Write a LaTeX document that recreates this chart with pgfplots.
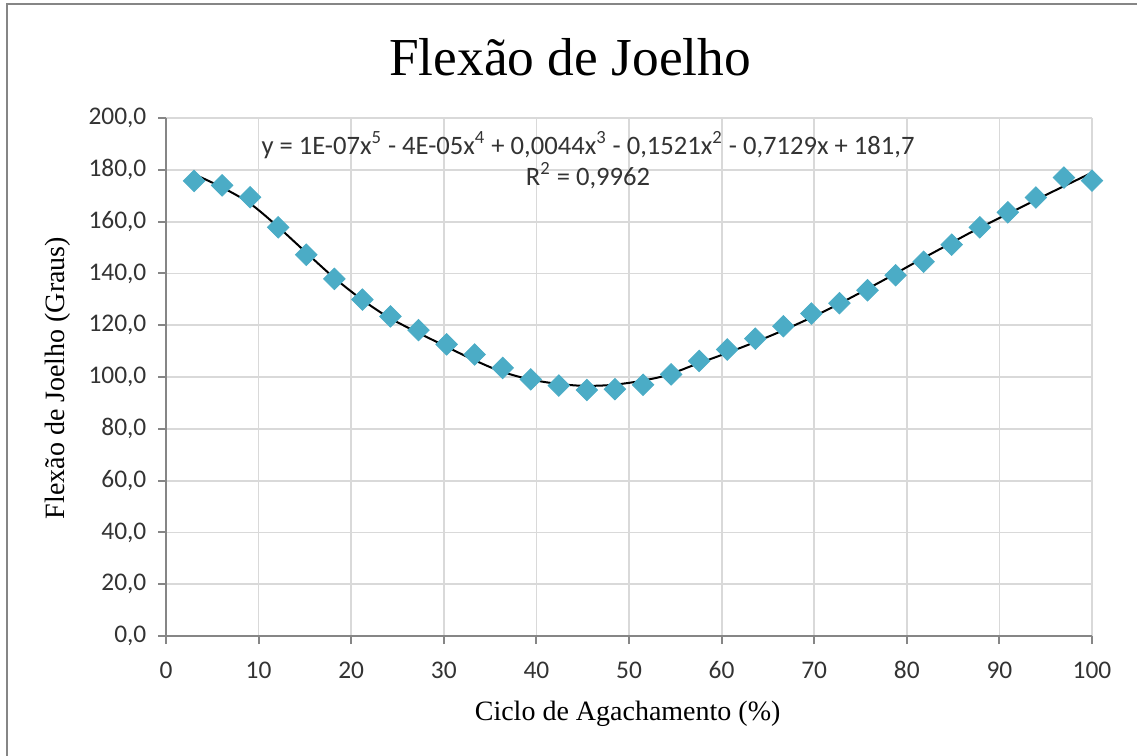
\documentclass[border=0pt]{standalone}
\usepackage{fontspec}
\setmainfont{Liberation Serif}
\newfontfamily\calib{Carlito}
\usepackage{pgfplots}
\pgfplotsset{compat=1.18}
\definecolor{mk}{RGB}{75,172,198}
\definecolor{gridc}{RGB}{217,217,217}
\definecolor{axc}{RGB}{134,134,134}
\begin{document}
\begin{tikzpicture}
\useasboundingbox (0,0) rectangle (568.5pt,-378pt);
\draw[axc, line width=1pt] (3.5pt,-2pt) rectangle (600pt,-400pt);
\begin{axis}[
  at={(83pt,-318pt)}, anchor=south west,
  scale only axis, width=463pt, height=259pt,
  xmin=0, xmax=100, ymin=0, ymax=200,
  xtick={0,10,...,100}, ytick={0,20,...,200},
  grid=major, major grid style={gridc, line width=0.9pt},
  axis x line*=bottom, axis y line*=left,
  axis line style={axc, line width=1pt, -},
  tick style={axc, line width=1pt},
  tick align=outside, major tick length=4pt,
  ticklabel style={font=\calib\fontsize{12.7}{15}\selectfont, text=black!80},
  yticklabel style={xshift=-2.3pt},
  xticklabel style={yshift=-5.5pt, text height=8.2pt, text depth=0pt},
  /pgf/number format/assume math mode=true,
  y tick label style={/pgf/number format/.cd, fixed, fixed zerofill, precision=1, use comma},
  x tick label style={/pgf/number format/.cd, fixed, precision=0},
  clip=false,
]
\addplot[only marks, mark=square*, mark size=3.8pt, color=mk,
  every mark/.append style={rotate=45}] coordinates {
(3.03,175.7) (6.06,174.0) (9.09,169.4) (12.12,157.8) (15.15,147.2)
(18.18,137.9) (21.21,129.9) (24.24,123.4) (27.27,118.1) (30.30,112.6)
(33.33,108.7) (36.36,103.5) (39.39,99.1) (42.42,96.7) (45.45,95.0)
(48.48,95.3) (51.52,97.0) (54.55,101.0) (57.58,106.2) (60.61,110.6)
(63.64,114.8) (66.67,119.6) (69.70,124.5) (72.73,128.5) (75.76,133.5)
(78.79,139.3) (81.82,144.5) (84.85,151.1) (87.88,157.8) (90.91,163.6)
(93.94,169.3) (96.97,177.0) (100.00,175.8)
};
\addplot[black, line width=1pt, smooth, no marks] coordinates {
(3.03,178.3) (6,173.3) (9,167.2) (12,158.3) (15,148.5) (18,138.8)
(21,130.3) (24,123.1) (27,117.5) (30,112.2) (33,107.0) (36,102.4)
(39,99.3) (42,97.5) (45,96.6) (48,96.9) (51,98.3) (54,100.6)
(57,104.6) (60,108.5) (63,112.6) (66,117.0) (69,121.8) (72,127.0)
(75,132.6) (78,138.4) (81,144.4) (84,150.2) (87,156.0) (90,161.4)
(93,166.7) (96,172.0) (100,178.9)
};
\end{axis}
\node[anchor=base, font=\fontsize{26.7}{30}\selectfont] at (285pt,-37.5pt) {Flexão de Joelho};
\node[anchor=base, font=\calib\fontsize{13.3}{15}\selectfont, text=black!80] at (294pt,-77pt)
  {y = 1E-07x\textsuperscript{5} - 4E-05x\textsuperscript{4} + 0,0044x\textsuperscript{3} - 0,1521x\textsuperscript{2} - 0,7129x + 181,7};
\node[anchor=base, font=\calib\fontsize{13.3}{15}\selectfont, text=black!80] at (294pt,-92.5pt)
  {R\textsuperscript{2} = 0,9962};
\node[font=\fontsize{14}{16}\selectfont] at (313.8pt,-357pt) {Ciclo de Agachamento (\%)};
\node[rotate=90, font=\fontsize{14}{16}\selectfont] at (29pt,-189pt) {Flexão de Joelho (Graus)};
\end{tikzpicture}
\end{document}
